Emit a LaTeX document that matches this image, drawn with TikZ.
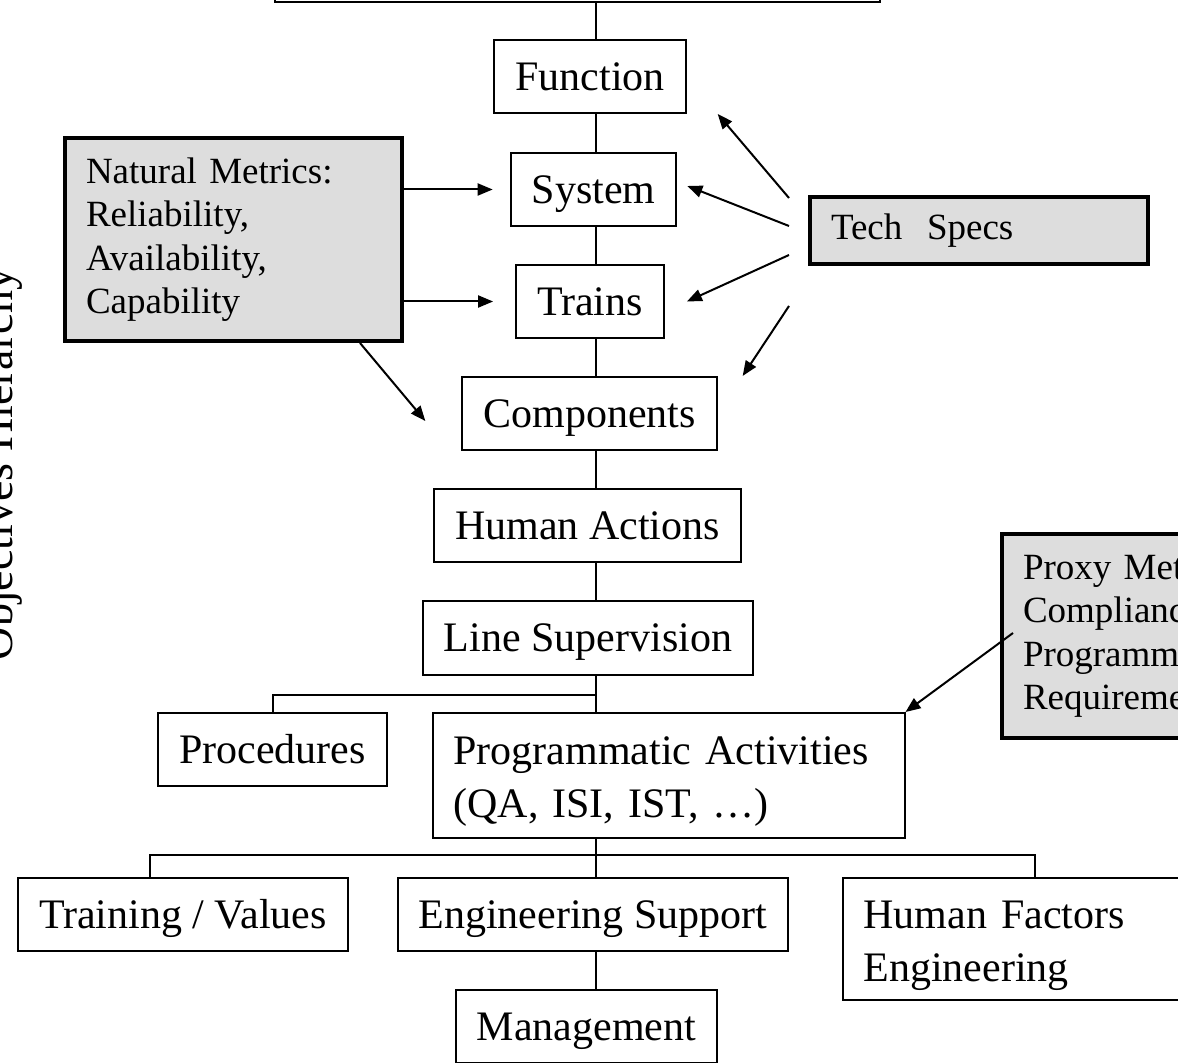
\documentclass[tikz,border=0pt]{standalone}
\usepackage{fontspec}
\setmainfont{Liberation Serif}
\usetikzlibrary{positioning,arrows.meta}
\definecolor{metricgray}{RGB}{221,221,221}
\tikzset{>={Triangle[length=7.5pt,width=6pt]}, % filled arrow heads
tier/.style={draw, line width=1pt, fill=white, minimum height=36.5pt, inner xsep=10.5pt, text height=16.8pt, text depth=2.8pt, font=\fontsize{21}{25.5}\selectfont}, % boxes of the hierarchy
twoline/.style={tier, align=left, text height=18pt, text depth=29pt, font=\fontsize{21}{26.5}\selectfont}, % two-line boxes
metric/.style={draw, line width=2pt, fill=metricgray, align=left, inner xsep=10.5pt, font=\fontsize{18.5}{21.75}\selectfont}, % grey metric boxes
link/.style={line width=1pt}, % connectors and arrows
}
\begin{document}
\begin{tikzpicture}[x=0.5pt, y=-0.5pt]
\useasboundingbox (0,0) rectangle (1178,1063);
\clip (0,0) rectangle (1178,1063);

\coordinate (spine) at (596,0);
\coordinate (split1) at (596,695);
\coordinate (split2) at (596,855);

\node[tier, minimum width=302.5pt] (top) at (577.5,-34.5) {};
\node[tier] (func) at (590,76.5) {Function};
\node[tier] (sys) at (593.5,189.5) {System};
\node[tier] (trains) at (590,301.5) {Trains};
\node[tier] (comp) at (589.5,413.5) {Components};
\node[tier] (human) at (587.5,526) {Human Actions};
\node[tier] (linesup) at (588,638) {Line Supervision};
\node[tier] (proc) at (272.5,749.5) {Procedures};
\node[twoline, text width=215pt, minimum height=62.5pt] (prog) at (668.5,775.5) {Programmatic Activities\\(QA, ISI, IST, …)};
\node[tier] (train) at (183,914) {Training / Values};
\node[tier] (eng) at (593,914) {Engineering Support};
\node[twoline, text width=171.5pt, minimum height=61pt] (hfe) at (1035,939) {Human Factors\\Engineering};
\node[tier] (mgmt) at (586.5,1026.5) {Management};

\node[metric, text width=147.5pt, minimum height=101.5pt] (natural) at (233.5,239.5) {Natural Metrics:\\Reliability,\\Availability,\\Capability};
\node[metric, text width=148pt, minimum height=33.5pt] (tech) at (979,231) {Tech~~Specs};
\node[metric, text width=139pt, minimum height=102pt] (proxy) at (1162,636) {Proxy Metrics:\\Compliance with\\Programmatic\\Requirements};

\node[rotate=90, anchor=base, font=\fontsize{23}{27}\selectfont] (title) at (12,464) {Objectives Hierarchy};

\draw[link] (top.south -| spine) -- (func.north -| spine)
  (func.south -| spine) -- (sys.north -| spine)
  (sys.south -| spine) -- (trains.north -| spine)
  (trains.south -| spine) -- (comp.north -| spine)
  (comp.south -| spine) -- (human.north -| spine)
  (human.south -| spine) -- (linesup.north -| spine)
  (linesup.south -| spine) -- (prog.north -| spine)
  (proc.north) |- (split1)
  (prog.south -| spine) -- (eng.north -| spine)
  ([xshift=-16.5pt]train.north) |- (split2) -| (hfe.north)
  (eng.south -| spine) -- (mgmt.north -| spine);

\draw[link, ->] (natural.east |- sys.west) -- ([xshift=-8.5pt]sys.west);
\draw[link, ->] (natural.east |- trains.west) -- ([xshift=-11pt]trains.west);
\draw[link, ->] ([xshift=-22pt]natural.south east) -- ([xshift=-18pt,yshift=-3.75pt]comp.west);

\draw[link, ->] ([xshift=-9.5pt,yshift=16.5pt]tech.west) -- ([xshift=15.5pt]func.south east);
\draw[link, ->] ([xshift=-9.5pt,yshift=2.5pt]tech.west) -- ([xshift=5pt,yshift=1.75pt]sys.east);
\draw[link, ->] ([xshift=-9.5pt,yshift=-12pt]tech.west) -- ([xshift=11pt]trains.east);
\draw[link, ->] ([xshift=-9.5pt,yshift=-37.5pt]tech.west) -- ([xshift=12.5pt]comp.north east);

\draw[link, ->] ([xshift=6.5pt,yshift=1.5pt]proxy.west) -- (prog.north east);
\end{tikzpicture}
\end{document}
